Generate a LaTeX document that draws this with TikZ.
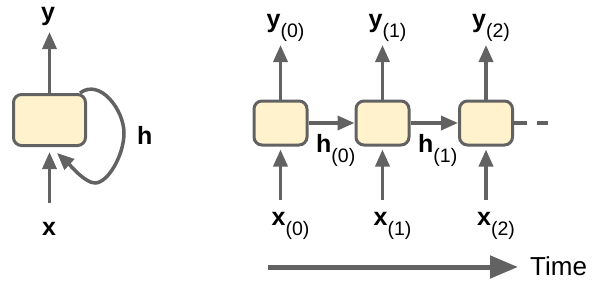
\documentclass[tikz,border=0pt]{standalone}
\usepackage{fontspec}
\setmainfont{Liberation Sans}
\usetikzlibrary{arrows.meta}
\definecolor{lc}{HTML}{626262}
\definecolor{bf}{HTML}{FFF2CC}
\newcommand\symlab[2]{\fontsize{25}{25}\selectfont\bfseries #1\raisebox{-10pt}{\fontsize{19.5}{19.5}\selectfont\mdseries(#2)}}
\newcommand\mainlab[1]{\fontsize{25}{25}\selectfont\bfseries #1}
\tikzset{
  cell/.style={draw=lc, line width=3pt, fill=bf, rounded corners=8pt,
    minimum width=53pt, minimum height=44pt, inner sep=0pt},
  conn/.style={draw=lc, line width=3.5pt, -{Triangle[length=17pt,width=14pt]}},
  lab/.style={anchor=base west, inner sep=0pt, text=black},
}
\begin{document}
\begin{tikzpicture}[x=1pt,y=-1pt]
\useasboundingbox (0,0) rectangle (606,287);
% folded cell
\node[cell, minimum width=72pt, minimum height=51pt] (c) at (49.5,120) {};
\coordinate (cout) at (49.5,32);
\coordinate (cin) at (49.5,203);
\coordinate (lstart) at (80,93);
\coordinate (ltip) at (57,153);
\draw[conn] (c.north) -- (cout);
\draw[conn, shorten >=5pt] (cin) -- (c.south);
\draw[conn] (lstart) .. controls (100,78) and (124,110) .. (124,133)
  .. controls (124,155) and (108,183) .. (95,183)
  .. controls (85,183) and (70,165) .. (ltip);
\node[lab] (ly) at (41,20) {\mainlab{y}};
\node[lab] (lx) at (42,235) {\mainlab{x}};
\node[lab] (lh) at (137,144) {\mainlab{h}};
% unrolled
\foreach \i/\cx in {0/280.5,1/382.5,2/486}{
  \node[cell] (a\i) at (\cx,123) {};
  \coordinate (o\i) at (\cx,45);
  \coordinate (in\i) at (\cx,200);
  \draw[conn] (a\i.north) -- (o\i);
  \draw[conn, shorten >=3pt] (in\i) -- (a\i.south);
  \node[lab] (y\i) at (\cx-14,27) {\symlab{y}{\i}};
  \node[lab] (x\i) at (\cx-9,225) {\symlab{x}{\i}};
}
\draw[conn] (a0.east) -- (a1.west);
\draw[conn] (a1.east) -- (a2.west);
\node[lab] (h0) at (316,152) {\symlab{h}{0}};
\node[lab] (h1) at (418,152) {\symlab{h}{1}};
\coordinate (dend) at (548,123);
\draw[draw=lc, line width=3.5pt, dash pattern=on 13pt off 10pt] (a2.east) -- (dend);
% time axis
\coordinate (t0) at (268,267);
\coordinate (t1) at (518,267);
\draw[draw=lc, line width=5pt, -{Triangle[length=28pt,width=22pt]}] (t0) -- (t1);
\node[lab] (time) at (530,275) {\fontsize{26}{26}\selectfont Time};
\end{tikzpicture}
\end{document}
